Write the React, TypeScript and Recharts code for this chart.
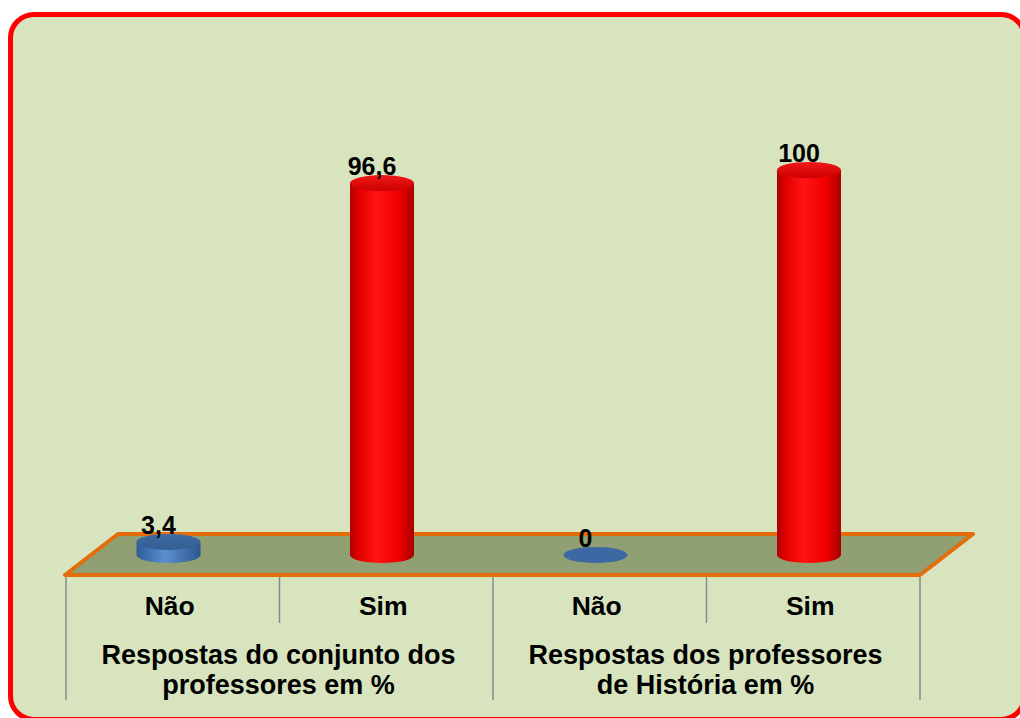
import { BarChart, Bar, XAxis, YAxis, ReferenceArea, LabelList } from "recharts";

// answers per column, left to right
const categories = ["Não", "Sim", "Não", "Sim"];
const percentages = [3.4, 96.6, 0, 100];
// two-line group captions under each pair of columns
const groupCaptions = [
  ["Respostas do conjunto dos", "professores em %"],
  ["Respostas dos professores", "de História em %"],
];

const W = 1020;
const H = 718;
const MARGIN = { top: 170, right: 100, bottom: 3, left: 66 };
const AXIS_H = 140;
const BAND = (W - MARGIN.left - MARGIN.right) / categories.length;
const FLOOR = [-5.2, 5.45]; // floor front / back edge in value units
const FONT = "'Liberation Sans', Arial, sans-serif";
const SHIFT = -4.5;
const RY = 8;

const data = categories.map((c, i) => ({
  key: `${c}-${i}`,
  answer: c,
  value: percentages[i],
}));

const Floor = (props: any) => {
  const { x, y, width, height } = props;
  const dx = 53;
  const pts = [
    [x - 1, y + height],
    [x + width, y + height],
    [x + width + dx, y],
    [x + dx - 1, y],
  ]
    .map((p) => p.join(","))
    .join(" ");
  return (
    <polygon
      points={pts}
      fill="#91a072"
      stroke="#e46c0a"
      strokeWidth={4}
      strokeLinejoin="round"
    />
  );
};

const Cylinder = (props: any) => {
  const { x, y, width, height, payload } = props;
  const kind = payload.answer === "Sim" ? "red" : "blue";
  const rx = width / 2;
  const cx = x + rx + SHIFT;
  const base = y + height;
  if (height < 1) {
    return <ellipse cx={cx} cy={base} rx={rx} ry={RY} fill="#3c69a3" />;
  }
  const d = `M${cx - rx},${y} L${cx - rx},${base} A${rx},${RY} 0 0 0 ${cx + rx},${base} L${cx + rx},${y} Z`;
  return (
    <g>
      <path d={d} fill={`url(#body-${kind})`} />
      <ellipse cx={cx} cy={y} rx={rx} ry={RY} fill={`url(#top-${kind})`} />
    </g>
  );
};

const ValueLabel = (props: any) => {
  const { x, y, width, value } = props;
  return (
    <text
      x={x + width / 2 + SHIFT - 10}
      y={y - 8}
      textAnchor="middle"
      fontFamily={FONT}
      fontWeight="bold"
      fontSize={25}
      fill="#000"
    >
      {String(value).replace(".", ",")}
    </text>
  );
};

const CategoryTick = (props: any) => {
  const { x, y, index } = props;
  const i = index ?? props.payload?.index ?? 0;
  const left = x - BAND / 2;
  const right = x + BAND / 2;
  const line = "#8a8a8a";
  const txt = {
    fontFamily: FONT,
    fontWeight: "bold" as const,
    fontSize: 26.5,
    fill: "#000",
    textAnchor: "middle" as const,
  };
  return (
    <g>
      <text x={x - 3} y={y + 40} {...txt}>
        {categories[i]}
      </text>
      {i % 2 === 0 && (
        <>
          <line x1={left} x2={left} y1={y + 2} y2={y + 125} stroke={line} strokeWidth={1.5} />
          <line x1={right} x2={right} y1={y + 2} y2={y + 48} stroke={line} strokeWidth={1.5} />
          <text x={right - 1} y={y + 89} {...txt} fontSize={27}>
            {groupCaptions[i / 2][0]}
          </text>
          <text x={right - 1} y={y + 119} {...txt} fontSize={27}>
            {groupCaptions[i / 2][1]}
          </text>
        </>
      )}
      {i === categories.length - 1 && (
        <line x1={right} x2={right} y1={y + 2} y2={y + 125} stroke={line} strokeWidth={1.5} />
      )}
    </g>
  );
};

export default function App() {
  return (
    <div
      style={{
        position: "absolute",
        left: 0,
        top: 0,
        width: W,
        height: H,
        overflow: "hidden",
        background: "#fff",
      }}
    >
      <div
        style={{
          position: "absolute",
          left: 8,
          top: 12,
          width: 1019,
          height: 710,
          boxSizing: "border-box",
          border: "5px solid #ff0000",
          borderRadius: 26,
          background: "#d7e4bd",
        }}
      />
      <div style={{ position: "absolute", left: 0, top: 0 }}>
        <BarChart width={W} height={H} data={data} margin={MARGIN} barSize={64}>
          <defs>
            <linearGradient id="body-red" x1="0" x2="1" y1="0" y2="0">
              <stop offset="0%" stopColor="#b00000" />
              <stop offset="15%" stopColor="#e60000" />
              <stop offset="42%" stopColor="#ff1414" />
              <stop offset="75%" stopColor="#f20000" />
              <stop offset="100%" stopColor="#a80000" />
            </linearGradient>
            <linearGradient id="top-red" x1="0" x2="0" y1="0" y2="1">
              <stop offset="0%" stopColor="#f01818" />
              <stop offset="100%" stopColor="#cc0000" />
            </linearGradient>
            <linearGradient id="body-blue" x1="0" x2="1" y1="0" y2="0">
              <stop offset="0%" stopColor="#2f5d96" />
              <stop offset="45%" stopColor="#5b8fd0" />
              <stop offset="100%" stopColor="#2c588f" />
            </linearGradient>
            <linearGradient id="top-blue" x1="0" x2="0" y1="0" y2="1">
              <stop offset="0%" stopColor="#3e6ba3" />
              <stop offset="100%" stopColor="#335e94" />
            </linearGradient>
          </defs>
          <YAxis hide domain={[FLOOR[0], 100]} />
          <XAxis
            dataKey="key"
            height={AXIS_H}
            axisLine={false}
            tickLine={false}
            tickSize={0}
            tickMargin={0}
            interval={0}
            tick={<CategoryTick />}
          />
          <ReferenceArea y1={FLOOR[0]} y2={FLOOR[1]} shape={<Floor />} ifOverflow="visible" />
          <Bar dataKey="value" shape={<Cylinder />} isAnimationActive={false}>
            <LabelList dataKey="value" content={<ValueLabel />} />
          </Bar>
        </BarChart>
      </div>
    </div>
  );
}
